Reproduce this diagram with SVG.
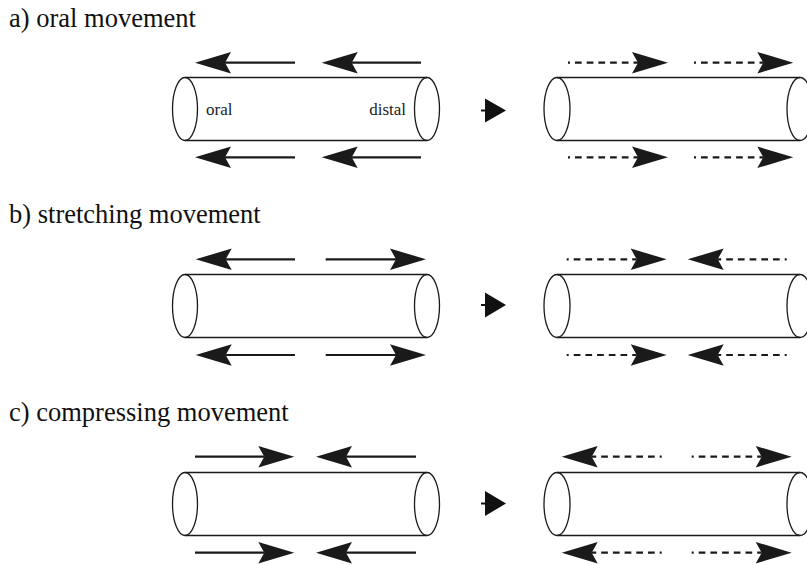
<svg xmlns="http://www.w3.org/2000/svg" width="807" height="565" viewBox="0 0 807 565">
  <style>
    .title { font-family: "Liberation Serif", "Times New Roman", serif; font-size: 26.5px; fill: #111; }
    .lbl { font-family: "Liberation Serif", "Times New Roman", serif; font-size: 17px; fill: #222; }
    .tube { fill: none; stroke: #1a1a1a; stroke-width: 1.3; }
    .solid { fill: none; stroke: #1a1a1a; stroke-width: 2.2; marker-end: url(#head); }
    .dash { fill: none; stroke: #1a1a1a; stroke-width: 2.2; stroke-dasharray: 6.7 5; stroke-dashoffset: 4.7; marker-end: url(#head); }
    .step { fill: #111; stroke: #111; stroke-width: 2; }
  </style>
  <defs>
    <!-- concave arrowhead; reference point at the notch, tip 25px ahead -->
    <marker id="head" markerUnits="userSpaceOnUse" markerWidth="40" markerHeight="24" refX="0" refY="0" viewBox="-6 -10 32 20" orient="auto" overflow="visible">
      <path d="M25,0 L-5,-9 L0,0 L-5,9 Z" fill="#1a1a1a"/>
    </marker>
    <!-- tube: centre line y=0, ends at x1 and x2 -->
    <g id="tubeL">
      <line class="tube" x1="185" y1="-31.5" x2="427" y2="-31.5"/>
      <line class="tube" x1="185" y1="31.5" x2="427" y2="31.5"/>
      <ellipse class="tube" cx="185" cy="0" rx="12.5" ry="31.5"/>
      <ellipse class="tube" cx="427" cy="0" rx="12.5" ry="31.5"/>
    </g>
    <g id="tubeR">
      <line class="tube" x1="557" y1="-31.5" x2="800" y2="-31.5"/>
      <line class="tube" x1="557" y1="31.5" x2="800" y2="31.5"/>
      <ellipse class="tube" cx="557" cy="0" rx="13" ry="31.5"/>
      <ellipse class="tube" cx="800" cy="0" rx="13" ry="31.5"/>
    </g>
  </defs>

  <!-- panel titles -->
  <text class="title" x="9" y="27">a) oral movement</text>
  <text class="title" x="9" y="223">b) stretching movement</text>
  <text class="title" x="9" y="421">c) compressing movement</text>

  <!-- tubes -->
  <g id="tube-a-before" transform="translate(0,109)">
    <use href="#tubeL"/>
    <text class="lbl" x="206" y="6">oral</text>
    <text class="lbl" x="406" y="6" text-anchor="end">distal</text>
  </g>
  <g id="tube-a-after" transform="translate(0,109)"><use href="#tubeR"/></g>
  <g id="tube-b-before" transform="translate(0,306)"><use href="#tubeL"/></g>
  <g id="tube-b-after" transform="translate(0,306)"><use href="#tubeR"/></g>
  <g id="tube-c-before" transform="translate(0,504)"><use href="#tubeL"/></g>
  <g id="tube-c-after" transform="translate(0,504)"><use href="#tubeR"/></g>

  <g id="connectors">
    <!-- a) oral movement -->
    <line class="solid" x1="295" y1="62.7" x2="225" y2="62.7"/>
    <line class="solid" x1="421" y1="62.7" x2="351.7" y2="62.7"/>
    <line class="solid" x1="295" y1="157.3" x2="225" y2="157.3"/>
    <line class="solid" x1="421" y1="157.3" x2="351.7" y2="157.3"/>
    <line class="dash" x1="568" y1="62.7" x2="638" y2="62.7"/>
    <line class="dash" x1="694" y1="62.7" x2="763.3" y2="62.7"/>
    <line class="dash" x1="568" y1="157.3" x2="638" y2="157.3"/>
    <line class="dash" x1="694" y1="157.3" x2="763.3" y2="157.3"/>
    <g class="step">
      <line x1="481" y1="110.5" x2="487" y2="110.5"/>
      <path d="M485,98.5 L506,110.5 L485,122.5 Z" stroke="none"/>
    </g>

    <!-- b) stretching movement -->
    <line class="solid" x1="295" y1="259.3" x2="225.7" y2="259.3"/>
    <line class="solid" x1="325.7" y1="259.3" x2="396" y2="259.3"/>
    <line class="solid" x1="295" y1="355" x2="225.7" y2="355"/>
    <line class="solid" x1="325.7" y1="355" x2="396" y2="355"/>
    <line class="dash" x1="566.7" y1="259.3" x2="636.7" y2="259.3"/>
    <line class="dash" x1="786.7" y1="259.3" x2="717.7" y2="259.3"/>
    <line class="dash" x1="566.7" y1="355" x2="636.7" y2="355"/>
    <line class="dash" x1="786.7" y1="355" x2="717.7" y2="355"/>
    <g class="step">
      <line x1="481" y1="305" x2="487" y2="305"/>
      <path d="M485,292.5 L506,305 L485,317.5 Z" stroke="none"/>
    </g>

    <!-- c) compressing movement -->
    <line class="solid" x1="195" y1="456.7" x2="264.3" y2="456.7"/>
    <line class="solid" x1="416" y1="456.7" x2="346" y2="456.7"/>
    <line class="solid" x1="195" y1="552.7" x2="264.3" y2="552.7"/>
    <line class="solid" x1="416" y1="552.7" x2="346" y2="552.7"/>
    <line class="dash" x1="661.7" y1="456.7" x2="591.7" y2="456.7"/>
    <line class="dash" x1="691.7" y1="456.7" x2="761.7" y2="456.7"/>
    <line class="dash" x1="661.7" y1="552.7" x2="591.7" y2="552.7"/>
    <line class="dash" x1="691.7" y1="552.7" x2="761.7" y2="552.7"/>
    <g class="step">
      <line x1="481" y1="503.5" x2="487" y2="503.5"/>
      <path d="M485,491 L506,503.5 L485,516 Z" stroke="none"/>
    </g>
  </g>
</svg>
